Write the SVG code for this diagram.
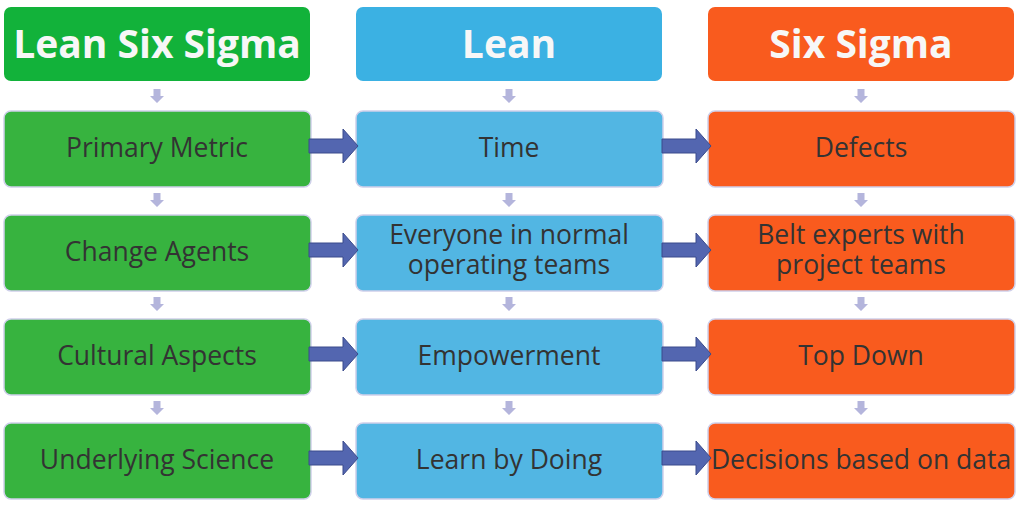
<svg xmlns="http://www.w3.org/2000/svg" width="1024" height="508" viewBox="0 0 1024 508">
<style>
.hd{font-family:"Open Sans",Lato,sans-serif;font-weight:bold;font-size:39px;fill:#f7f7f7;text-anchor:middle}
.tx{font-family:"Open Sans",Lato,sans-serif;font-size:26.5px;fill:#333333;text-anchor:middle}
.g0{fill:#12b23a}.b0{fill:#3bb1e3}.o0{fill:#f95b1e}
.g{fill:#37b33f;stroke:#cfd0ea;stroke-width:1.5}
.b{fill:#52b6e3;stroke:#cfd0ea;stroke-width:1.5}
.o{fill:#f95b1e;stroke:#cfd0ea;stroke-width:1.5}
.da{fill:#b4b5dc}
.ra{fill:#5366b0;stroke:#3b4b8c;stroke-width:1}
</style>
<rect width="1024" height="508" fill="#ffffff"/>
<g id="h-lss"><rect class="g0" x="4" y="7" width="306" height="74" rx="7"/><text class="hd" x="157" y="58">Lean Six Sigma</text></g>
<g id="h-lean"><rect class="b0" x="356" y="7" width="306" height="74" rx="7"/><text class="hd" x="509" y="58">Lean</text></g>
<g id="h-ss"><rect class="o0" x="708" y="7" width="306" height="74" rx="7"/><text class="hd" x="861" y="58">Six Sigma</text></g>

<g id="n-g1"><rect class="g" x="4" y="111" width="307" height="76" rx="7"/><text class="tx" x="157" y="157">Primary Metric</text></g>
<g id="n-g2"><rect class="g" x="4" y="215" width="307" height="76" rx="7"/><text class="tx" x="157" y="261">Change Agents</text></g>
<g id="n-g3"><rect class="g" x="4" y="319" width="307" height="76" rx="7"/><text class="tx" x="157" y="365">Cultural Aspects</text></g>
<g id="n-g4"><rect class="g" x="4" y="423" width="307" height="76" rx="7"/><text class="tx" x="157" y="469">Underlying Science</text></g>

<g id="n-b1"><rect class="b" x="356" y="111" width="307" height="76" rx="7"/><text class="tx" x="509" y="157">Time</text></g>
<g id="n-b2"><rect class="b" x="356" y="215" width="307" height="76" rx="7"/><text class="tx" x="509" y="244">Everyone in normal</text><text class="tx" x="509" y="274">operating teams</text></g>
<g id="n-b3"><rect class="b" x="356" y="319" width="307" height="76" rx="7"/><text class="tx" x="509" y="365">Empowerment</text></g>
<g id="n-b4"><rect class="b" x="356" y="423" width="307" height="76" rx="7"/><text class="tx" x="509" y="469">Learn by Doing</text></g>

<g id="n-o1"><rect class="o" x="708" y="111" width="307" height="76" rx="7"/><text class="tx" x="861" y="157">Defects</text></g>
<g id="n-o2"><rect class="o" x="708" y="215" width="307" height="76" rx="7"/><text class="tx" x="861" y="244">Belt experts with</text><text class="tx" x="861" y="274">project teams</text></g>
<g id="n-o3"><rect class="o" x="708" y="319" width="307" height="76" rx="7"/><text class="tx" x="861" y="365">Top Down</text></g>
<g id="n-o4"><rect class="o" x="708" y="423" width="307" height="76" rx="7"/><text class="tx" x="861" y="469">Decisions based on data</text></g>

<defs>
<path id="dn" d="M-3.5,0 H3.5 V7 H7 L0,14 L-7,7 H-3.5 Z"/>
<path id="rt" d="M0,-7 H34 V-17 L49,0 L34,17 V7 H0 Z"/>
</defs>
<g id="connectors">
<use href="#dn" class="da" x="157" y="89"/><use href="#dn" class="da" x="509" y="89"/><use href="#dn" class="da" x="861" y="89"/>
<use href="#dn" class="da" x="157" y="193"/><use href="#dn" class="da" x="509" y="193"/><use href="#dn" class="da" x="861" y="193"/>
<use href="#dn" class="da" x="157" y="297"/><use href="#dn" class="da" x="509" y="297"/><use href="#dn" class="da" x="861" y="297"/>
<use href="#dn" class="da" x="157" y="401"/><use href="#dn" class="da" x="509" y="401"/><use href="#dn" class="da" x="861" y="401"/>
<use href="#rt" class="ra" x="309" y="146"/><use href="#rt" class="ra" x="662" y="146"/>
<use href="#rt" class="ra" x="309" y="250"/><use href="#rt" class="ra" x="662" y="250"/>
<use href="#rt" class="ra" x="309" y="354"/><use href="#rt" class="ra" x="662" y="354"/>
<use href="#rt" class="ra" x="309" y="458"/><use href="#rt" class="ra" x="662" y="458"/>
</g>
</svg>
